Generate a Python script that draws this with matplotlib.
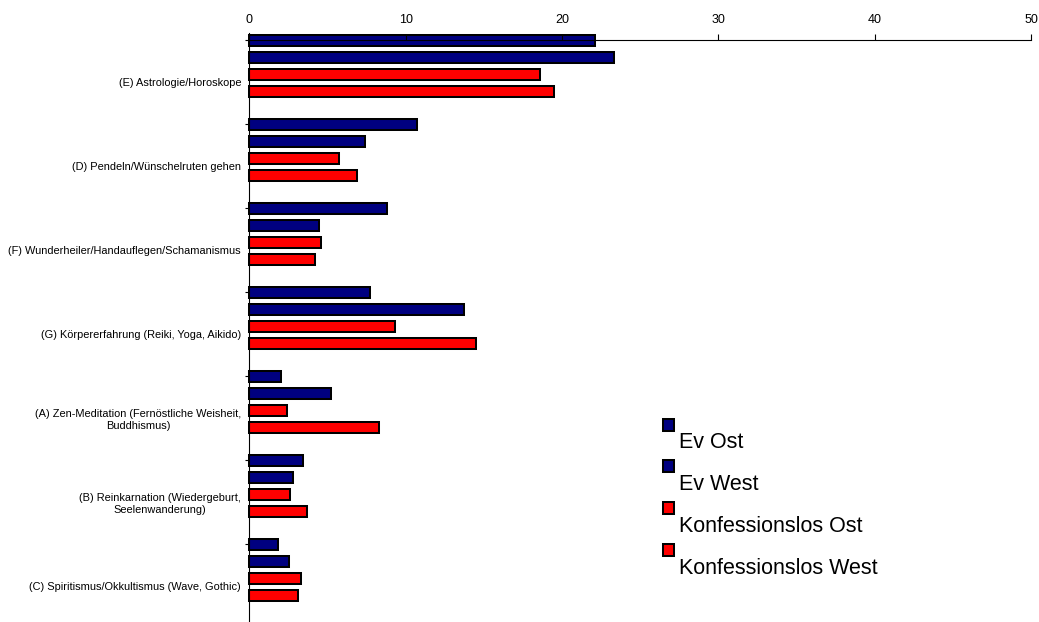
import matplotlib
matplotlib.use("Agg")
import matplotlib.pyplot as plt
from matplotlib.patches import Rectangle
import numpy as np

plt.rcParams["font.family"] = ["Liberation Sans", "DejaVu Sans"]

# ── data (top category first) ────────────────────────────────────────────────
categories = [
    "(E) Astrologie/Horoskope",
    "(D) Pendeln/Wünschelruten gehen",
    "(F) Wunderheiler/Handauflegen/Schamanismus",
    "(G) Körpererfahrung (Reiki, Yoga, Aikido)",
    "(A) Zen-Meditation (Fernöstliche Weisheit,\nBuddhismus)",
    "(B) Reinkarnation (Wiedergeburt,\nSeelenwanderung)",
    "(C) Spiritismus/Okkultismus (Wave, Gothic)",
]
series = ["Ev Ost", "Ev West", "Konfessionslos Ost", "Konfessionslos West"]
colors = ["#000080", "#000080", "#FF0000", "#FF0000"]

ev_ost    = [22.1, 10.7, 8.8, 7.7, 2.0, 3.4, 1.85]
ev_west   = [23.3, 7.4, 4.45, 13.7, 5.2, 2.8, 2.55]
konf_ost  = [18.6, 5.7, 4.6, 9.3, 2.4, 2.6, 3.3]
konf_west = [19.5, 6.9, 4.2, 14.5, 8.3, 3.7, 3.1]
values = [ev_ost, ev_west, konf_ost, konf_west]

x_ticks = [0, 10, 20, 30, 40, 50]

# ── layout (pixel based) ─────────────────────────────────────────────────────
W, H = 1039, 622
fig = plt.figure(figsize=(W / 100, H / 100), dpi=100)
x0, x1 = 249.4, 1031.0
y_top, y_bot = 40.0, 628.0
ax = fig.add_axes([x0 / W, 1 - y_bot / H, (x1 - x0) / W, (y_bot - y_top) / H])

n = len(categories)
band = (y_bot - y_top) / n          # px per category
pitch = 17.0 / band
bar_h = 11.0 / band
base = np.arange(n) + 0.008

for k, (vals, col) in enumerate(zip(values, colors)):
    ax.barh(base + k * pitch, vals, height=bar_h, color=col,
            edgecolor="black", linewidth=1.45, clip_on=False, zorder=1)

ax.set_xlim(0, 50)
ax.set_ylim(n, 0)

ax.xaxis.tick_top()
ax.set_xticks(x_ticks)
ax.tick_params(axis="x", direction="out", length=4.5, width=0.8, pad=5.5,
               labelsize=9)

ax.set_yticks(np.arange(n + 1))
ax.set_yticklabels([])
ax.set_yticks(np.arange(n) + 0.5, minor=True)
ax.set_yticklabels(categories, minor=True)
ax.tick_params(axis="y", which="major", direction="out", length=3, width=0.8)
ax.tick_params(axis="y", which="minor", length=0, pad=6, labelsize=7.9)
for t in ax.get_yticklabels(minor=True):
    t.set_multialignment("center")

for side in ["right", "bottom"]:
    ax.spines[side].set_visible(False)
for side in ["top", "left"]:
    ax.spines[side].set_linewidth(0.8)
    ax.spines[side].set_zorder(3)
ax.spines["left"].set_bounds(n, -0.08)

# ── legend (square above-left of each label) ─────────────────────────────────
sq_x, sq_y, sq_w, sq_h, step = 662.8, 418.8, 11.5, 11.7, 41.7
for j, (name, col) in enumerate(zip(series, colors)):
    ty = sq_y + j * step
    fig.add_artist(Rectangle((sq_x / W, 1 - (ty + sq_h) / H), sq_w / W, sq_h / H,
                             facecolor=col, edgecolor="black", linewidth=1.45,
                             transform=fig.transFigure))
    fig.text(679 / W, 1 - (ty + sq_h + 17.9) / H, name, fontsize=15.5,
             va="baseline", ha="left")

fig.savefig("out.png", dpi=100)
